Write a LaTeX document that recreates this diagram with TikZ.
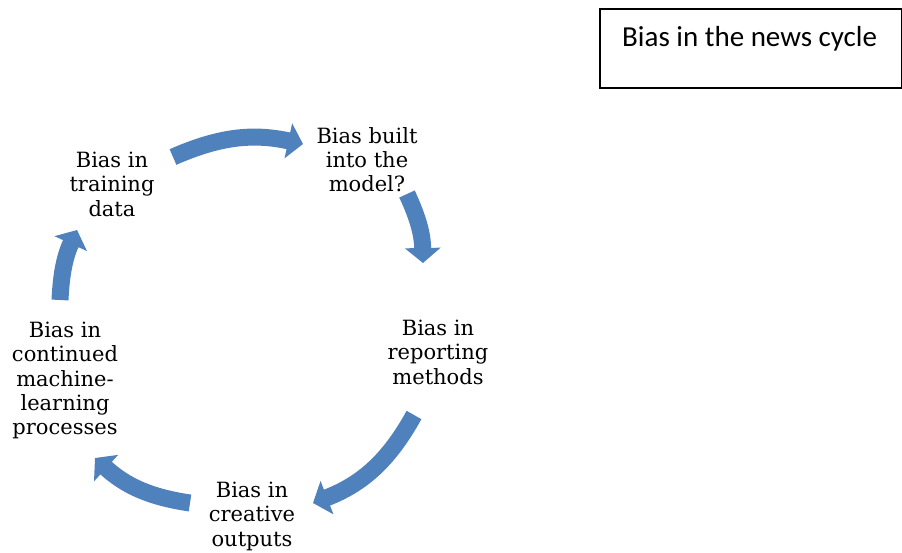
\documentclass[tikz,border=0pt]{standalone}
\usepackage{fontspec}
\setmainfont{DejaVu Serif}
\newfontfamily\calibri{Carlito}
\usetikzlibrary{arrows.meta}
\definecolor{arrowblue}{RGB}{79,129,189}
\begin{document}
\begin{tikzpicture}[x=1pt,y=1pt,
  lbl/.style={align=center, font=\fontsize{21}{24.2}\selectfont, inner sep=0pt, anchor=north},
  cyc/.style={draw=arrowblue, line width=17pt, -{Triangle[width=35pt,length=15pt]}},
]
\useasboundingbox (0,0) rectangle (902,-552);
% title box
\node[draw, line width=1.5pt, minimum width=302, minimum height=79, inner sep=0pt, anchor=north west] (titlebox) at (599,-8) {};
\node[font=\calibri\fontsize{29}{34}\selectfont, anchor=base west, inner sep=0pt] (title) at (622,-46) {Bias in the news cycle};
% labels
\node[lbl] (train) at (112,-152) {Bias in\\training\\data};
\node[lbl] (model) at (367,-127) {Bias built\\into the\\model?};
\node[lbl] (report) at (438,-320) {Bias in\\reporting\\methods};
\node[lbl] (creative) at (252,-482) {Bias in\\creative\\outputs};
\node[lbl] (ml) at (65,-322) {Bias in\\continued\\machine-\\learning\\processes};
% arrow end points
\coordinate (a1) at (173,-157); \coordinate (a2) at (303,-144);
\coordinate (b1) at (407,-194); \coordinate (b2) at (423,-263);
\coordinate (c1) at (414,-415); \coordinate (c2) at (313,-503);
\coordinate (d1) at (190,-503); \coordinate (d2) at (95,-458);
\coordinate (e1) at (60,-300);  \coordinate (e2) at (77,-230);
\draw[cyc] (a1) to[bend left=18] (a2);
\draw[cyc] (b1) to[bend left=12] (b2);
\draw[cyc] (c1) to[bend left=20] (c2);
\draw[cyc] (d1) to[bend left=17] (d2);
\draw[cyc] (e1) to[bend left=11] (e2);
\end{tikzpicture}
\end{document}
